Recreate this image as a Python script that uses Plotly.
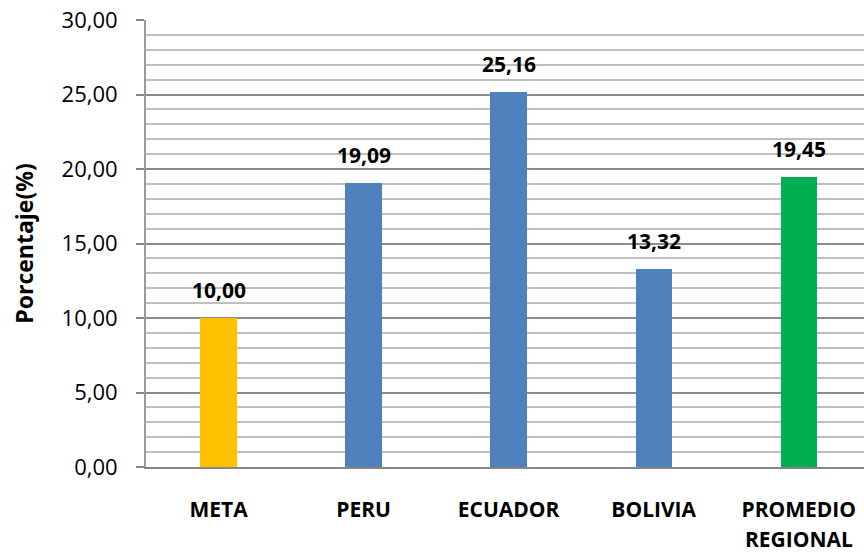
import plotly.graph_objects as go

categories = ["META", "PERU", "ECUADOR", "BOLIVIA", "PROMEDIO<br>REGIONAL"]
values = [10.00, 19.09, 25.16, 13.32, 19.45]
value_labels = ["10,00", "19,09", "25,16", "13,32", "19,45"]
colors = ["#FFC000", "#4F81BD", "#4F81BD", "#4F81BD", "#00B050"]
y_tickvals = [0, 5, 10, 15, 20, 25, 30]
y_ticktext = ["0,00", "5,00", "10,00", "15,00", "20,00", "25,00", "30,00"]

FONT = "Open Sans"
XFONT = 21

fig = go.Figure()
fig.add_trace(go.Bar(
    x=list(range(len(categories))), y=values,
    marker=dict(color=colors, line=dict(width=0)),
    width=0.25, showlegend=False, hoverinfo="skip",
))

for i, (v, t) in enumerate(zip(values, value_labels)):
    fig.add_annotation(x=i, y=v, text="<b>%s</b>" % t, showarrow=False,
                       yanchor="bottom", yshift=12,
                       font=dict(family=FONT, size=21, color="#000000"))

# first line of each category as tick label, further lines (wider line spacing) as annotations
first_lines = [c.split("<br>")[0] for c in categories]
for i, c in enumerate(categories):
    for k, extra in enumerate(c.split("<br>")[1:], start=1):
        fig.add_annotation(x=i, y=0, text="<b>%s</b>" % extra, showarrow=False,
                           yanchor="middle", yshift=-(42 + 30 * k),
                           font=dict(family=FONT, size=XFONT, color="#000000"))

fig.update_layout(
    width=864, height=553,
    margin=dict(l=146, r=0, t=20, b=86),
    paper_bgcolor="white", plot_bgcolor="white",
    bargap=0,
    xaxis=dict(
        range=[-0.5, 4.45], automargin=False,
        tickmode="array", tickvals=list(range(len(categories))),
        ticktext=["<b>%s</b>" % c for c in first_lines],
        tickfont=dict(family=FONT, size=XFONT, color="#000000"),
        showgrid=False, zeroline=False,
        showline=True, linecolor="#868686", linewidth=2,
        ticks="", ticklabelstandoff=23,
    ),
    yaxis=dict(
        range=[0, 30], automargin=False,
        tickmode="array", tickvals=y_tickvals, ticktext=y_ticktext,
        tickfont=dict(family=FONT, size=22, color="#000000"),
        showgrid=True, gridcolor="#8C8C8C", gridwidth=2,
        minor=dict(dtick=1, showgrid=True, gridcolor="#BFBFBF", gridwidth=2),
        zeroline=False,
        showline=True, linecolor="#9A9A9A", linewidth=2,
        ticks="outside", ticklen=8, tickcolor="#868686", tickwidth=2,
        ticklabelstandoff=14,
        title=dict(text="<b>Porcentaje(%)</b>", font=dict(family=FONT, size=23, color="#000000"), standoff=22),
    ),
)

fig.write_html("out.html", config={"displayModeBar": False},
               post_script="document.body.style.margin='0';")
